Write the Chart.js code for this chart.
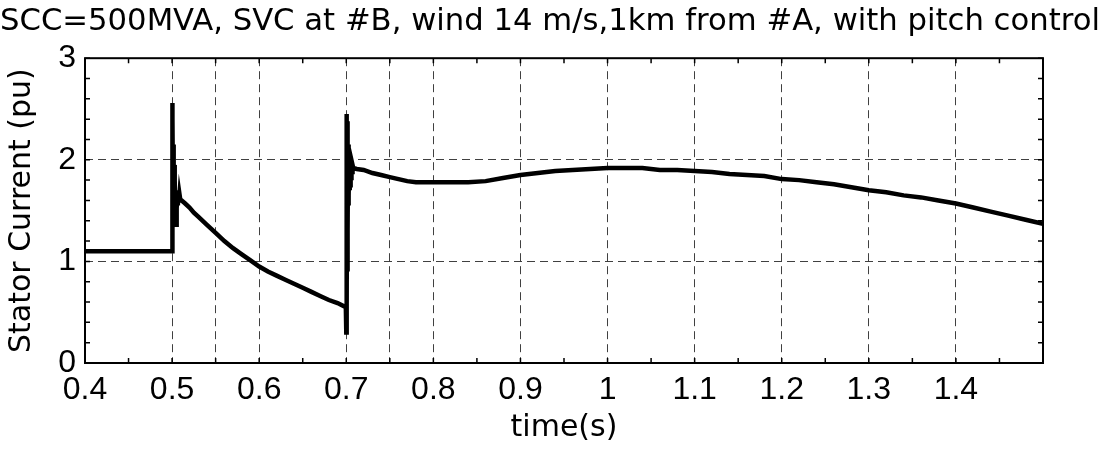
<!DOCTYPE html>
<html>
<head>
<meta charset="utf-8">
<script src="https://cdn.jsdelivr.net/npm/chart.js@4/dist/chart.umd.min.js"></script>
<style>
  html, body { margin: 0; padding: 0; background: #fff; }
  #wrap { width: 1100px; height: 450px; }
</style>
</head>
<body>
<div id="wrap"><canvas id="statorChart"></canvas></div>
<script>
// time axis (s) and stator current (pu)
var timeS = [
  0.4, 0.5,
  0.5, 0.5004, 0.5008, 0.5012, 0.5016, 0.502, 0.5024, 0.5028, 0.5032, 0.5036, 0.504, 0.5045,
  0.505, 0.5055, 0.506, 0.5066, 0.5072, 0.5078, 0.5085, 0.5095, 0.511,
  0.515, 0.52, 0.525, 0.53, 0.54, 0.55, 0.56, 0.57, 0.58, 0.59, 0.6, 0.61, 0.62, 0.63,
  0.64, 0.65, 0.66, 0.67, 0.68, 0.69, 0.6995,
  0.7, 0.7003, 0.7006, 0.7009, 0.7012, 0.7015, 0.7018, 0.7021, 0.7024, 0.7027, 0.703,
  0.7034, 0.7038, 0.7042, 0.7046, 0.705, 0.7055, 0.706, 0.7066, 0.7072, 0.708, 0.712,
  0.72, 0.73, 0.74, 0.75, 0.76, 0.77, 0.78, 0.8, 0.82, 0.84, 0.86, 0.88, 0.9, 0.92, 0.94,
  0.96, 0.98, 1.0, 1.02, 1.04, 1.06, 1.08, 1.1, 1.12, 1.14, 1.16, 1.18, 1.2, 1.22, 1.24,
  1.26, 1.28, 1.3, 1.32, 1.34, 1.36, 1.38, 1.4, 1.42, 1.44, 1.46, 1.48, 1.5
];
var statorPu = [
  1.1, 1.1,
  2.56, 1.35, 2.4, 1.4, 2.15, 1.45, 1.95, 1.4, 1.8, 1.38, 1.6, 1.36,
  1.7, 1.52, 1.7, 1.55, 1.68, 1.58, 1.66, 1.6, 1.6,
  1.57, 1.53, 1.48, 1.44, 1.36, 1.28, 1.2, 1.13, 1.07, 1.01, 0.95, 0.9, 0.86, 0.82,
  0.78, 0.74, 0.7, 0.66, 0.62, 0.59, 0.55,
  0.3, 2.45, 0.55, 2.38, 0.9, 2.25, 1.3, 2.15, 1.55, 2.08, 1.65,
  2.02, 1.7, 2.0, 1.75, 1.98, 1.82, 1.97, 1.88, 1.95, 1.92, 1.91,
  1.9, 1.87, 1.85, 1.83, 1.81, 1.79, 1.78, 1.78, 1.78, 1.78, 1.79, 1.82, 1.85, 1.87, 1.89,
  1.9, 1.91, 1.92, 1.92, 1.92, 1.9, 1.9, 1.89, 1.88, 1.86, 1.85, 1.84, 1.81, 1.8, 1.78,
  1.76, 1.73, 1.7, 1.68, 1.65, 1.63, 1.6, 1.57, 1.53, 1.49, 1.45, 1.41, 1.37
];
// extra dashed grid lines besides the 0.1 steps
var extraGridX = [0.55, 0.75];

var titleText = 'SCC=500MVA, SVC at #B, wind 14 m/s,1km from #A, with pitch control';
var fontFamily = '"Liberation Sans", Arial, sans-serif';
var labelFamily = '"DejaVu Sans", sans-serif';

function near(v, step) {
  return Math.abs(v / step - Math.round(v / step)) < 1e-6;
}

// box round the plot with inward tick marks (matlab style)
var frameTicks = {
  id: 'frameTicks',
  afterDatasetsDraw: function (chart) {
    var a = chart.chartArea;
    var ctx = chart.ctx;
    var xs = chart.scales.x, ys = chart.scales.y;
    var len = 5;
    ctx.save();
    ctx.strokeStyle = '#000';
    ctx.lineWidth = 1.5;
    ctx.beginPath();
    xs.ticks.forEach(function (t) {
      var px = xs.getPixelForValue(t.value);
      ctx.moveTo(px, a.bottom); ctx.lineTo(px, a.bottom - len);
      ctx.moveTo(px, a.top); ctx.lineTo(px, a.top + len);
    });
    ys.ticks.forEach(function (t) {
      var py = ys.getPixelForValue(t.value);
      ctx.moveTo(a.left, py); ctx.lineTo(a.left + len, py);
      ctx.moveTo(a.right, py); ctx.lineTo(a.right - len, py);
    });
    ctx.stroke();
    ctx.lineWidth = 2;
    ctx.strokeRect(a.left, a.top, a.right - a.left, a.bottom - a.top);
    ctx.restore();
  }
};

var points = timeS.map(function (t, i) { return { x: t, y: statorPu[i] }; });

var ctx = document.getElementById('statorChart').getContext('2d');
window.statorChart = new Chart(ctx, {
  type: 'line',
  data: {
    datasets: [{
      data: points,
      yAxisID: 'y',
      borderColor: '#000',
      borderWidth: 4.5,
      pointRadius: 0,
      tension: 0,
      fill: false
    }]
  },
  options: {
    responsive: true,
    maintainAspectRatio: false,
    animation: false,
    layout: { padding: 0 },
    plugins: {
      legend: { display: false },
      tooltip: { enabled: false },
      title: {
        display: true,
        text: titleText,
        color: '#000',
        font: { family: labelFamily, size: 31, weight: 'normal' },
        padding: { top: 3, bottom: 18 }
      }
    },
    scales: {
      x: {
        type: 'linear',
        min: 0.4,
        max: 1.5,
        afterFit: function (s) { s.height = 87; },
        ticks: {
          stepSize: 0.05,
          autoSkip: false,
          maxRotation: 0,
          padding: 8,
          color: '#000',
          font: { family: fontFamily, size: 32 },
          callback: function (v) {
            if (!near(v, 0.1) || v > 1.45) return '';
            return String(Math.round(v * 10) / 10);
          }
        },
        grid: {
          drawTicks: false,
          lineWidth: 1,
          color: function (c) {
            var v = c.tick ? c.tick.value : 0;
            var isExtra = extraGridX.some(function (e) { return Math.abs(e - v) < 1e-6; });
            if ((near(v, 0.1) || isExtra) && v > 0.41 && v < 1.49) return 'rgba(0,0,0,0.75)';
            return 'rgba(0,0,0,0)';
          }
        },
        border: { display: false, dash: [8, 5] },
        title: {
          display: true,
          text: 'time(s)',
          color: '#000',
          font: { family: labelFamily, size: 30 },
          padding: { top: 0, bottom: 4 }
        }
      },
      y: {
        min: 0,
        max: 3,
        afterFit: function (s) { s.width = 85; },
        ticks: {
          stepSize: 0.2,
          autoSkip: false,
          padding: 9,
          color: '#000',
          font: { family: fontFamily, size: 32 },
          callback: function (v) {
            return near(v, 1) ? String(Math.round(v)) : '';
          }
        },
        grid: {
          drawTicks: false,
          lineWidth: 1,
          color: function (c) {
            var v = c.tick ? c.tick.value : 0;
            if (near(v, 1) && v > 0.5 && v < 2.5) return 'rgba(0,0,0,0.75)';
            return 'rgba(0,0,0,0)';
          }
        },
        border: { display: false, dash: [8, 5] },
        title: {
          display: true,
          text: 'Stator Current (pu)',
          color: '#000',
          font: { family: labelFamily, size: 30 },
          padding: { top: 4, bottom: 0 }
        }
      },
      // empty right-hand axis, only keeps the white margin on the right
      yRight: {
        position: 'right',
        min: 0,
        max: 3,
        afterFit: function (s) { s.width = 57; },
        grid: { display: false, drawTicks: false },
        border: { display: false },
        ticks: { display: false }
      }
    }
  },
  plugins: [frameTicks]
});
</script>
</body>
</html>
